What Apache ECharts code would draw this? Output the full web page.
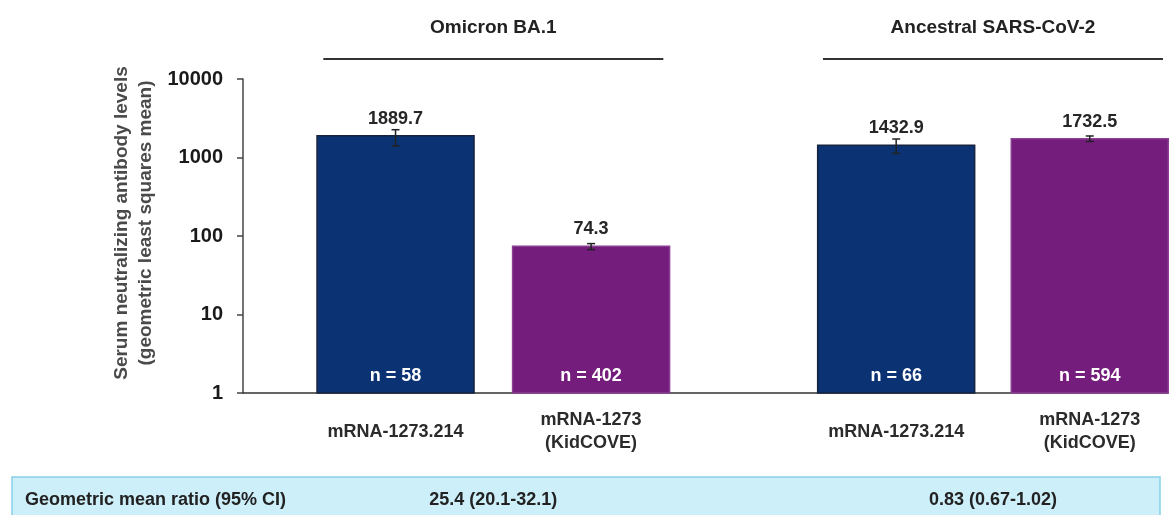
<!DOCTYPE html>
<html lang="en">
<head>
<meta charset="UTF-8">
<title>Serum neutralizing antibody levels</title>
<script src="https://cdn.jsdelivr.net/npm/echarts@6/dist/echarts.min.js"></script>
<style>
    html, body { margin: 0; padding: 0; background: #fff; }
    #chart { width: 1172px; height: 515px; }
</style>
</head>
<body>
<div id="chart"></div>
<script type="text/javascript">
    // bars
    const barNames = ['mRNA-1273.214', 'mRNA-1273\n(KidCOVE)', 'mRNA-1273.214', 'mRNA-1273\n(KidCOVE)'];
    const barPos = [1, 2, 3.56, 4.55];
    const gmValues = [1889.7, 74.3, 1432.9, 1732.5];
    const ciLow = [1400, 67, 1130, 1600];
    const ciHigh = [2260, 80, 1720, 1880];
    const nCounts = [58, 402, 66, 594];
    const barColors = ['#0b3373', '#741d7c', '#0b3373', '#741d7c'];
    const barBorders = ['#17233f', '#8a3f93', '#17233f', '#8a3f93'];
    // groups
    const groupNames = ['Omicron BA.1', 'Ancestral SARS-CoV-2'];
    const groupPos = [1.5, 4.055];
    const ratioText = ['25.4 (20.1-32.1)', '0.83 (0.67-1.02)'];
    const ratioTitle = 'Geometric mean ratio (95% CI)';
    const yTitle = 'Serum neutralizing antibody levels\n(geometric least squares mean)';

    const FONT = '"Liberation Sans", Arial, sans-serif';
    const BAR_W = 157;

    const barData = barPos.map(function (x, i) {
        return [x, gmValues[i], ciLow[i], ciHigh[i], nCounts[i]];
    });
    const groupData = groupPos.map(function (x) { return [x, 10000]; });

    function renderBar(params, api) {
        const i = params.dataIndex;
        const x = api.value(0);
        const top = api.coord([x, api.value(1)]);
        const base = api.coord([x, 1]);
        const lo = api.coord([x, api.value(2)]);
        const hi = api.coord([x, api.value(3)]);
        const cx = top[0];
        return {
            type: 'group',
            children: [
                {
                    type: 'rect',
                    shape: { x: cx - BAR_W / 2, y: top[1], width: BAR_W, height: base[1] - top[1] },
                    style: { fill: barColors[i], stroke: barBorders[i], lineWidth: 1.5 }
                },
                { type: 'line', shape: { x1: cx, y1: lo[1], x2: cx, y2: hi[1] }, style: { stroke: '#222', lineWidth: 1.5 } },
                { type: 'line', shape: { x1: cx - 4, y1: lo[1], x2: cx + 4, y2: lo[1] }, style: { stroke: '#222', lineWidth: 1.5 } },
                { type: 'line', shape: { x1: cx - 4, y1: hi[1], x2: cx + 4, y2: hi[1] }, style: { stroke: '#222', lineWidth: 1.5 } },
                {
                    type: 'text',
                    style: { text: String(api.value(1)), x: cx, y: top[1] - 17, align: 'center', verticalAlign: 'middle',
                        font: 'bold 18px ' + FONT, fill: '#262626' }
                },
                {
                    type: 'text',
                    style: { text: 'n = ' + api.value(4), x: cx, y: base[1] - 17, align: 'center', verticalAlign: 'middle',
                        font: 'bold 18px ' + FONT, fill: '#ffffff' }
                },
                {
                    type: 'text',
                    style: { text: barNames[i], x: cx, y: base[1] + 39, align: 'center', verticalAlign: 'middle',
                        font: 'bold 18px ' + FONT, fill: '#2b2b2b', lineHeight: 23 }
                }
            ]
        };
    }

    function renderGroup(params, api) {
        const i = params.dataIndex;
        const x = api.value(0);
        const top = api.coord([x, api.value(1)]);
        const base = api.coord([x, 1]);
        const cx = top[0];
        return {
            type: 'group',
            children: [
                {
                    type: 'text',
                    style: { text: groupNames[i], x: cx, y: top[1] - 51, align: 'center', verticalAlign: 'middle',
                        font: 'bold 19px ' + FONT, fill: '#222' }
                },
                { type: 'line', shape: { x1: cx - 170, y1: top[1] - 20, x2: cx + 170, y2: top[1] - 20 },
                    style: { stroke: '#333', lineWidth: 2 } },
                {
                    type: 'text',
                    style: { text: ratioText[i], x: cx, y: base[1] + 107, align: 'center', verticalAlign: 'middle',
                        font: 'bold 18px ' + FONT, fill: '#222' }
                }
            ]
        };
    }

    const myChart = echarts.init(document.getElementById('chart'));

    const option = {
        backgroundColor: '#fff',
        animation: false,
        grid: { left: 243, right: 4, top: 79, bottom: 122, containLabel: false, outerBoundsMode: 'none' },
        xAxis: {
            type: 'value',
            min: 0.22,
            max: 4.95,
            position: 'bottom',
            axisLine: { show: true, onZero: false, lineStyle: { color: '#333', width: 1.5 } },
            axisTick: { show: false },
            axisLabel: { show: false },
            splitLine: { show: false }
        },
        yAxis: {
            type: 'log',
            logBase: 10,
            min: 1,
            max: 10000,
            axisLine: { show: true, lineStyle: { color: '#444', width: 1.5 } },
            axisTick: { show: true, length: 6, lineStyle: { color: '#444', width: 1.5 } },
            axisLabel: {
                margin: 20, color: '#1a1a1a', fontWeight: 'bold', fontSize: 20, fontFamily: FONT,
                formatter: function (v) { return String(Math.round(v)); }
            },
            splitLine: { show: false },
            minorTick: { show: false }
        },
        graphic: [
            {
                type: 'rect',
                z: -1,
                shape: { x: 12, y: 477, width: 1148, height: 45 },
                style: { fill: '#cdeffa', stroke: '#86d0ea', lineWidth: 1.5 }
            },
            {
                type: 'text',
                x: 25, y: 500,
                style: { text: ratioTitle, verticalAlign: 'middle', font: 'bold 18px ' + FONT, fill: '#222' }
            },
            {
                type: 'text',
                x: 134, y: 223,
                rotation: Math.PI / 2,
                style: { text: yTitle, align: 'center', verticalAlign: 'middle', lineHeight: 24,
                    font: 'bold 19px ' + FONT, fill: '#4a4a4a' }
            }
        ],
        series: [
            {
                type: 'custom',
                renderItem: renderBar,
                encode: { x: 0, y: 1 },
                clip: false,
                data: barData
            },
            {
                type: 'custom',
                renderItem: renderGroup,
                encode: { x: 0, y: 1 },
                clip: false,
                data: groupData
            }
        ]
    };

    myChart.setOption(option);
</script>
</body>
</html>
